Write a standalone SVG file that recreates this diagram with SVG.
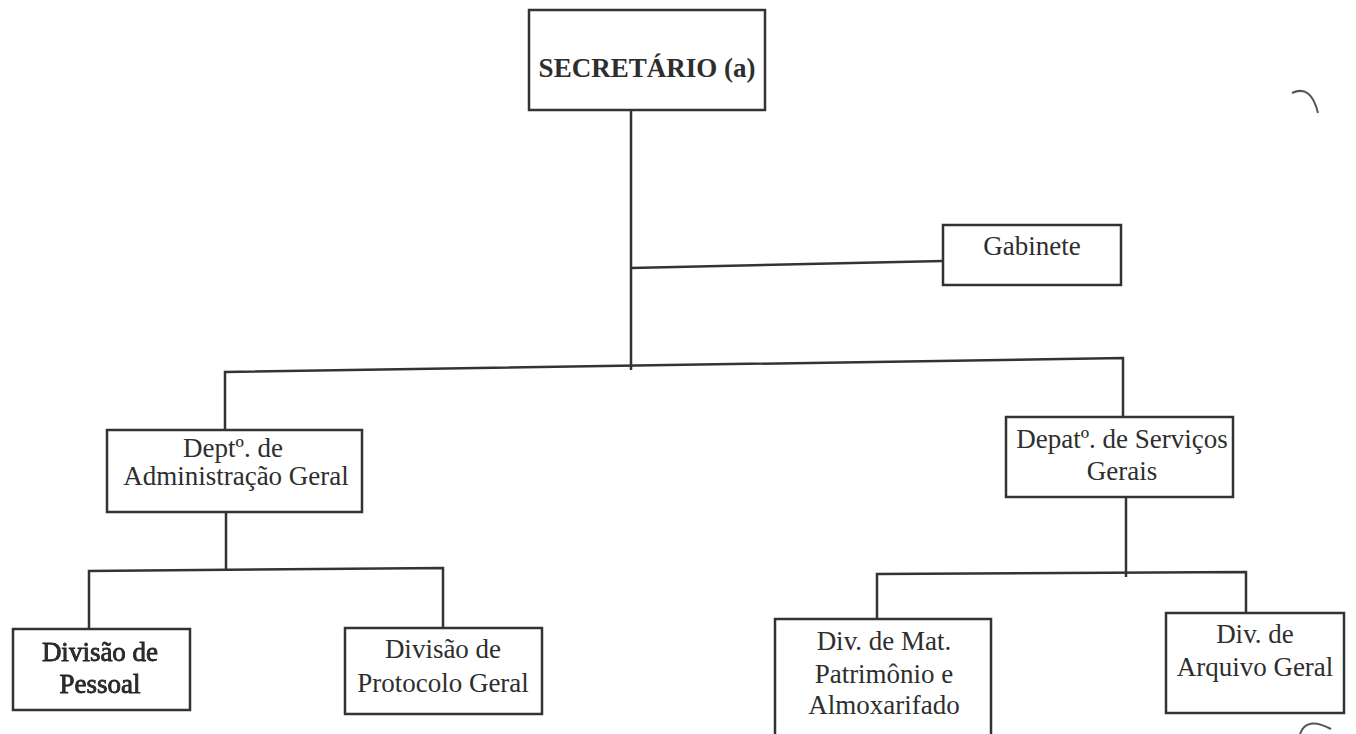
<svg xmlns="http://www.w3.org/2000/svg" width="1356" height="734" viewBox="0 0 1356 734">
<style>
.box{fill:#fff;stroke:#333;stroke-width:2.5}
.ln{fill:none;stroke:#333;stroke-width:2.5}
text{font-family:"Liberation Serif","Times New Roman",serif;font-size:27px;fill:#2e2e2e;text-anchor:middle}
.b{font-weight:bold}
.art{fill:none;stroke:#555;stroke-width:2}
</style>
<defs><filter id="blur" x="-10%" y="-10%" width="120%" height="120%"><feGaussianBlur stdDeviation="0.6"/></filter></defs>
<rect width="1356" height="734" fill="#fff"/>
<g id="connectors">
<polyline class="ln" points="631,110 631,370"/>
<polyline class="ln" points="631,268 943,261"/>
<polyline class="ln" points="225,430 225,372 1123,358 1123,417"/>
<polyline class="ln" points="226,512 226,570"/>
<polyline class="ln" points="89,629 89,571 443,568 443,628"/>
<polyline class="ln" points="1126,497 1126,577"/>
<polyline class="ln" points="877,619 877,574 1246,572 1246,613"/>
</g>
<g id="secretario">
<rect class="box" x="529" y="10" width="236" height="100"/>
<text class="b" x="647" y="77">SECRETÁRIO (a)</text>
</g>
<g id="gabinete">
<rect class="box" x="943" y="225" width="178" height="60"/>
<text x="1032" y="255">Gabinete</text>
</g>
<g id="dept-adm">
<rect class="box" x="107" y="430" width="255" height="82"/>
<text x="233" y="457">Deptº. de</text>
<text x="236" y="485">Administração Geral</text>
</g>
<g id="dept-serv">
<rect class="box" x="1006" y="417" width="227" height="80"/>
<text x="1122" y="448">Depatº. de Serviços</text>
<text x="1122" y="480">Gerais</text>
</g>
<g id="div-pessoal" filter="url(#blur)">
<rect class="box" x="13" y="629" width="177" height="81" stroke-width="3"/>
<text x="100" y="661" fill="#222" stroke="#222" stroke-width="0.8">Divisão de</text>
<text x="100" y="693" fill="#222" stroke="#222" stroke-width="0.8">Pessoal</text>
</g>
<g id="div-protocolo">
<rect class="box" x="345" y="628" width="197" height="86"/>
<text x="443" y="658">Divisão de</text>
<text x="443" y="692">Protocolo Geral</text>
</g>
<g id="div-mat">
<rect class="box" x="775" y="619" width="216" height="130"/>
<text x="884" y="650">Div. de Mat.</text>
<text x="884" y="683">Patrimônio e</text>
<text x="884" y="714">Almoxarifado</text>
</g>
<g id="div-arquivo">
<rect class="box" x="1166" y="613" width="178" height="100"/>
<text x="1255" y="643">Div. de</text>
<text x="1255" y="676">Arquivo Geral</text>
</g>
<path class="art" d="M1292,93 Q1311,84 1318,113"/>
<path class="art" d="M1300,734 Q1306,716 1331,729"/>
</svg>
